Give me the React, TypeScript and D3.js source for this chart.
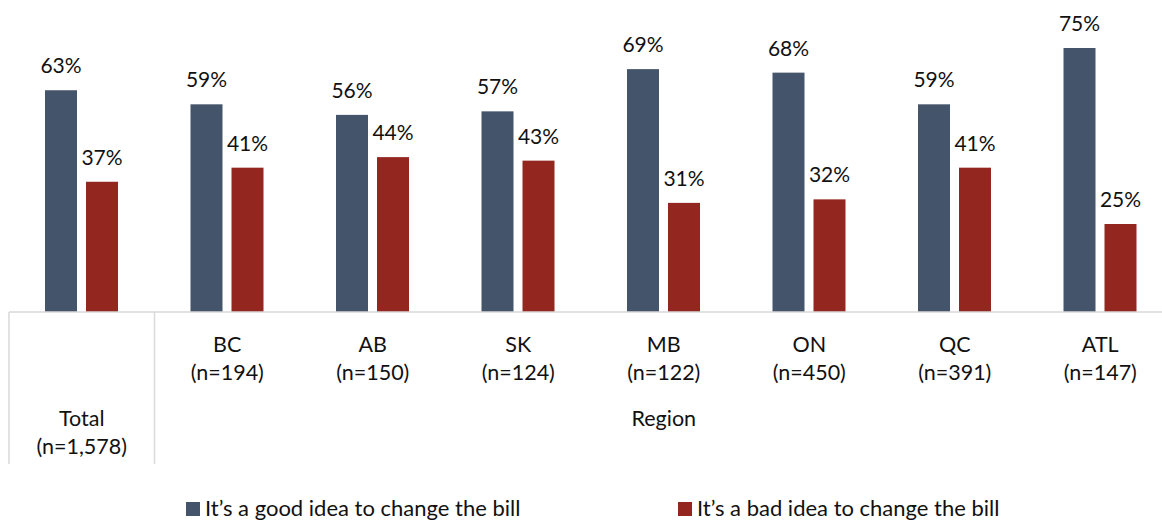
import { useEffect, useRef } from "react"
import * as d3 from "d3"

const categories = ["Total", "BC", "AB", "SK", "MB", "ON", "QC", "ATL"]
const sampleSizes = ["(n=1,578)", "(n=194)", "(n=150)", "(n=124)", "(n=122)", "(n=450)", "(n=391)", "(n=147)"]
const goodIdea = [63, 59, 56, 57, 69, 68, 59, 75]
const badIdea = [37, 41, 44, 43, 31, 32, 41, 25]
const seriesNames = ["It\u2019s a good idea to change the bill", "It\u2019s a bad idea to change the bill"]
const colors = ["#44546a", "#942620"]

const W = 1162
const H = 521
const FONT = "Lato, 'Open Sans', sans-serif"

const App = () => {
    const ref = useRef<SVGSVGElement>(null)

    useEffect(() => {
        const svg = d3.select(ref.current)
        svg.selectAll("*").remove()

        const baseY = 312
        const x = d3.scaleBand().domain(categories).range([9, 1173])
        const y = d3.scaleLinear().domain([0, 75]).range([baseY, 48])
        // two bars of ~32px with a 9px gap, centred in each category
        const inner = d3.scaleBand().domain(["0", "1"]).range([36, 109]).paddingInner(9 / 41).paddingOuter(0)

        const series = [goodIdea, badIdea]
        series.forEach((vals, si) => {
            const g = svg.append("g")
            g.selectAll("rect")
                .data(vals)
                .enter()
                .append("rect")
                .attr("x", (_, i) => x(categories[i])! + inner(String(si))!)
                .attr("y", d => y(d))
                .attr("width", inner.bandwidth())
                .attr("height", d => baseY - y(d))
                .attr("fill", colors[si])
            g.selectAll("text")
                .data(vals)
                .enter()
                .append("text")
                .attr("x", (_, i) => x(categories[i])! + inner(String(si))! + inner.bandwidth() / 2)
                .attr("y", d => y(d) - 17)
                .attr("text-anchor", "middle")
                .attr("font-family", FONT)
                .attr("font-size", 21)
                .attr("fill", "#111")
                .text(d => `${d}%`)
        })

        // category axis box
        const axis = svg.append("g").attr("stroke", "#d9d9d9").attr("stroke-width", 1.5)
        axis.append("line").attr("x1", 9).attr("x2", W).attr("y1", baseY).attr("y2", baseY)
        axis.append("line").attr("x1", 9).attr("x2", 9).attr("y1", baseY).attr("y2", 464)
        axis.append("line").attr("x1", x("BC")!).attr("x2", x("BC")!).attr("y1", baseY).attr("y2", 464)

        const labels = svg.append("g")
            .attr("font-family", FONT)
            .attr("font-size", 21.5)
            .attr("fill", "#111")
            .attr("text-anchor", "middle")
        categories.forEach((c, i) => {
            const cx = x(c)! + x.bandwidth() / 2
            const y1 = i === 0 ? 426 : 352
            labels.append("text").attr("x", cx).attr("y", y1).text(c)
            labels.append("text").attr("x", cx).attr("y", y1 + 28).text(sampleSizes[i])
        })
        labels.append("text")
            .attr("x", (x("BC")! + x.range()[1]) / 2)
            .attr("y", 426)
            .text("Region")

        // legend
        const legendX = [186, 678]
        const legend = svg.append("g").attr("font-family", FONT).attr("font-size", 22).attr("fill", "#111")
        seriesNames.forEach((name, i) => {
            legend.append("rect")
                .attr("x", legendX[i])
                .attr("y", 502)
                .attr("width", 14)
                .attr("height", 14)
                .attr("fill", colors[i])
            legend.append("text")
                .attr("x", legendX[i] + 19)
                .attr("y", 515.5)
                .text(name)
        })
    }, [])

    return (
        <svg ref={ref} width={W} height={H} style={{ position: "absolute", left: 0, top: 0, background: "#fff" }} />
    )
}

export default App
